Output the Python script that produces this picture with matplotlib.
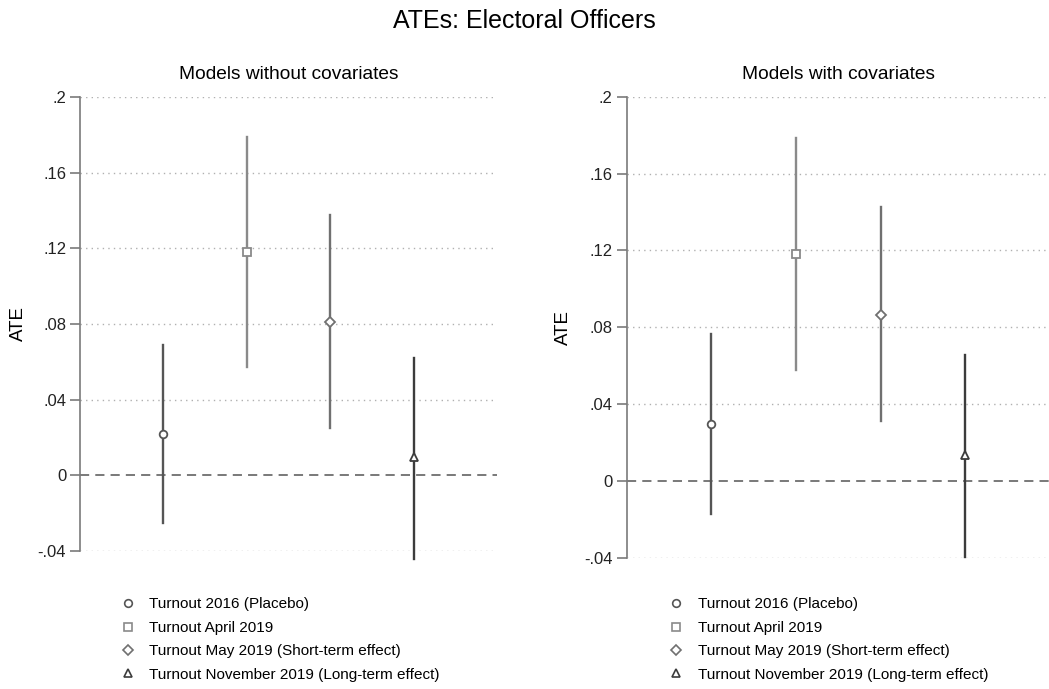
import matplotlib.pyplot as plt
from matplotlib.lines import Line2D

plt.rcParams['font.family'] = ['Liberation Sans', 'DejaVu Sans']

labels = ["Turnout 2016 (Placebo)", "Turnout April 2019",
          "Turnout May 2019 (Short-term effect)",
          "Turnout November 2019 (Long-term effect)"]
markers = ["o", "s", "D", "^"]
colors = ["#555555", "#8a8a8a", "#707070", "#3c3c3c"]

# Models without covariates
ate_nocov = [0.022, 0.118, 0.081, 0.0097]
lo_nocov = [-0.025, 0.0575, 0.025, -0.044]
hi_nocov = [0.0687, 0.179, 0.1374, 0.062]

# Models with covariates
ate_cov = [0.0296, 0.1183, 0.0866, 0.0136]
lo_cov = [-0.0174, 0.0579, 0.031, -0.0395]
hi_cov = [0.0765, 0.1784, 0.1428, 0.0657]

yticks = [-0.04, 0, 0.04, 0.08, 0.12, 0.16, 0.2]
yticklabels = ["-.04", "0", ".04", ".08", ".12", ".16", ".2"]

fig = plt.figure(figsize=(10.49, 6.89), dpi=100)
ax1 = fig.add_axes([0.0763, 0.2003, 0.3975, 0.659])
ax2 = fig.add_axes([0.5974, 0.1906, 0.4035, 0.669])

panels = [(ax1, ate_nocov, lo_nocov, hi_nocov, "Models without covariates", -0.127),
          (ax2, ate_cov, lo_cov, hi_cov, "Models with covariates", -0.129)]

msizes = {"o": 5.5, "s": 6, "D": 5, "^": 6}

for ax, ate, lo, hi, title, labx in panels:
    for i in range(4):
        x = i + 1
        ax.plot([x, x], [lo[i], hi[i]], color=colors[i], lw=1.7,
                clip_on=False, zorder=3)
        ax.plot(x, ate[i], marker=markers[i], ms=msizes[markers[i]],
                mfc="white", mec=colors[i], mew=1.3, ls="none",
                clip_on=False, zorder=4)
    for t in yticks:
        if t == 0:
            ax.axhline(0, color="#555555", lw=1.1, ls=(0, (6, 4)), zorder=2)
        else:
            ax.axhline(t, color="#b0b0b0", lw=1.0, ls=(0, (1, 3)), zorder=1)
    ax.set_xlim(0, 5)
    ax.set_ylim(-0.04, 0.2)
    ax.set_yticks(yticks)
    ax.set_yticklabels(yticklabels)
    ax.set_xticks([])
    for s in ["top", "right", "bottom"]:
        ax.spines[s].set_visible(False)
    ax.spines["left"].set_color("#7a7a7a")
    ax.spines["left"].set_linewidth(1.2)
    ax.tick_params(axis="y", length=7, width=1.2, color="#7a7a7a",
                   labelsize=12, labelcolor="#222222", pad=3)
    ax.set_ylabel("ATE", fontsize=13.5)
    ax.yaxis.set_label_coords(labx, 0.5)
    ax.set_title(title, fontsize=13.8, pad=13)

fig.text(0.5, 0.97, "ATEs: Electoral Officers", ha="center", va="center",
         fontsize=18)

handles = [Line2D([], [], marker=m, ls="none", mfc="none", mec=c, mew=1.2,
                  ms=msizes[m]) for m, c in zip(markers, colors)]
for x0 in [0.107, 0.63]:
    fig.legend(handles, labels, loc="upper left", bbox_to_anchor=(x0, 0.144),
               frameon=False, fontsize=11, handlelength=1.0,
               handletextpad=0.9, labelspacing=0.62, borderpad=0)

fig.savefig("out.png", dpi=100)
